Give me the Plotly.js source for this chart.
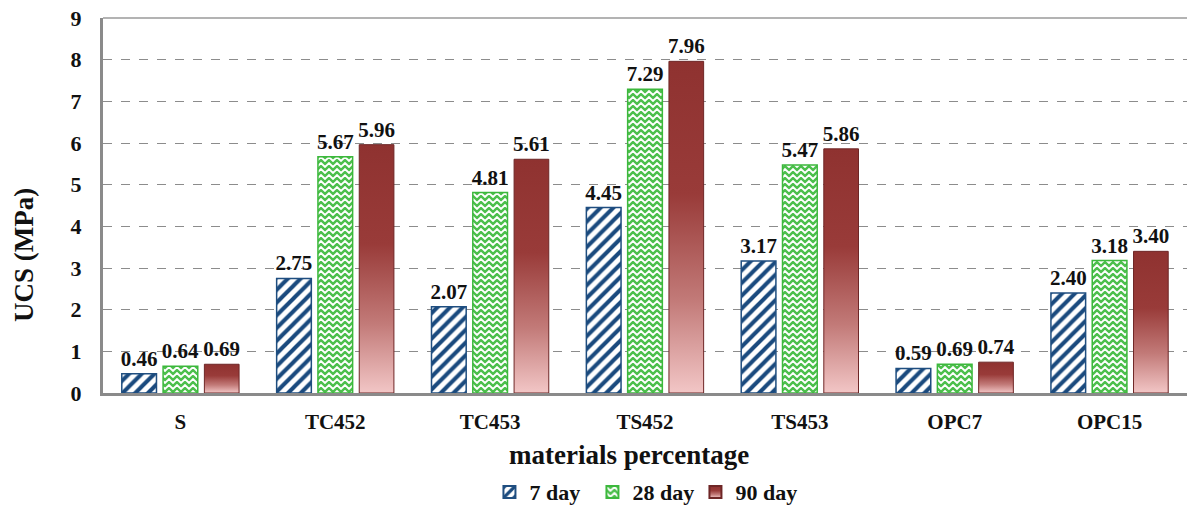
<!DOCTYPE html>
<html>
<head>
<meta charset="utf-8">
<script src="https://cdn.plot.ly/plotly-3.0.1.min.js"></script>
<style>
html,body{margin:0;padding:0;background:#fff;}
#chart{width:1187px;height:511px;}
</style>
</head>
<body>
<div id="chart"></div>
<script>
const categories = ["S", "TC452", "TC453", "TS452", "TS453", "OPC7", "OPC15"];
const day7 = [0.46, 2.75, 2.07, 4.45, 3.17, 0.59, 2.40];
const day28 = [0.64, 5.67, 4.81, 7.29, 5.47, 0.69, 3.18];
const day90 = [0.69, 5.96, 5.61, 7.96, 5.86, 0.74, 3.40];
const seriesNames = ["7 day", "28 day", "90 day"];
const yTicks = [0, 1, 2, 3, 4, 5, 6, 7, 8, 9];
const xTitle = "materials percentage";
const yTitle = "UCS (MPa)";

const serif = '"Liberation Serif", "Times New Roman", serif';
const labelFont = {family: serif, size: 21, color: '#111', weight: 'bold'};

const common = {
  type: 'bar', x: categories,
  texttemplate: '%{y:.2f}', textposition: 'outside', textfont: labelFont,
  cliponaxis: false, constraintext: 'none', hoverinfo: 'skip'
};

const traces = [
  Object.assign({}, common, {
    name: seriesNames[0], y: day7,
    marker: {color: '#ffffff', line: {color: '#1f4e80', width: 1.5},
      pattern: {shape: '/', fgcolor: '#1a4a7e', bgcolor: '#ffffff', size: 9, solidity: 0.45}}
  }),
  Object.assign({}, common, {
    name: seriesNames[1], y: day28,
    marker: {color: '#ffffff', line: {color: '#3cb83c', width: 1.5},
      pattern: {shape: 'x', fgcolor: '#46c246', bgcolor: '#ffffff', size: 6, solidity: 0.3}}
  }),
  Object.assign({}, common, {
    name: seriesNames[2], y: day90,
    marker: {color: '#943634', line: {color: '#6e2626', width: 1}}
  })
];

const layout = {
  width: 1187, height: 511,
  margin: {l: 103, r: 0, t: 18, b: 118},
  paper_bgcolor: '#ffffff', plot_bgcolor: '#ffffff',
  barmode: 'group', bargap: 0.2, bargroupgap: 0.16,
  showlegend: true,
  legend: {orientation: 'h', x: 0.5425, xref: 'container', xanchor: 'center',
    y: 0.037, yref: 'container', yanchor: 'middle',
    font: {family: serif, size: 22, color: '#111', weight: 'bold'},
    itemsizing: 'constant', entrywidth: 58, traceorder: 'normal', itemwidth: 30},
  xaxis: {
    range: [-0.5, 6.5], showgrid: false, zeroline: false,
    showline: true, linecolor: '#8a8a8a', linewidth: 3,
    ticks: '', ticklabelstandoff: 8,
    tickfont: {family: serif, size: 21, color: '#111', weight: 'bold'},
    fixedrange: true
  },
  yaxis: {
    range: [0, 9], tickvals: yTicks, ticktext: yTicks.map(String),
    showgrid: true, gridcolor: '#8c8c8c', gridwidth: 1, griddash: 'dash',
    zeroline: false, showline: true, linecolor: '#8a8a8a', linewidth: 3,
    ticks: '', ticklabelstandoff: 14,
    tickfont: {family: serif, size: 22, color: '#111', weight: 'bold'},
    fixedrange: true
  },
  annotations: [
    {text: xTitle, xref: 'paper', yref: 'paper', x: 0.485, y: -0.165, xanchor: 'center', yanchor: 'middle',
     showarrow: false, font: {family: serif, size: 27, color: '#111', weight: 'bold'}},
    {text: yTitle, xref: 'paper', yref: 'paper', x: -0.0728, y: 0.368, xanchor: 'center', yanchor: 'middle',
     textangle: -90, showarrow: false, font: {family: serif, size: 27, color: '#111', weight: 'bold'}}
  ],
  shapes: [
    {type: 'line', xref: 'paper', yref: 'paper', x0: 0, x1: 1, y0: 1, y1: 1,
     line: {color: '#9a9a9a', width: 1.5}}
  ]
};

Plotly.newPlot('chart', traces, layout, {displayModeBar: false, staticPlot: true}).then(function(gd) {
  const svg = gd.querySelector('svg.main-svg');
  const ns = 'http://www.w3.org/2000/svg';
  let defs = svg.querySelector('defs');
  if (!defs) { defs = document.createElementNS(ns, 'defs'); svg.insertBefore(defs, svg.firstChild); }
  defs.insertAdjacentHTML('beforeend',
    '<linearGradient id="g90" x1="0" y1="0" x2="0" y2="1">' +
      '<stop offset="0" stop-color="#8f3230"/>' +
      '<stop offset="0.4" stop-color="#993b39"/>' +
      '<stop offset="0.72" stop-color="#c27a78"/>' +
      '<stop offset="1" stop-color="#f2c6c6"/>' +
    '</linearGradient>' +
    '<pattern id="zig" patternUnits="userSpaceOnUse" width="8" height="6">' +
      '<rect width="8" height="6" fill="#4cbf4c"/>' +
      '<path d="M-2 5 L2 1 L6 5 L10 1" fill="none" stroke="#ffffff" stroke-width="1.8"/>' +
    '</pattern>');
  const barTraces = gd.querySelectorAll('.barlayer .trace');
  if (barTraces[1]) barTraces[1].querySelectorAll('.point path').forEach(p => p.style.fill = 'url(#zig)');
  if (barTraces[2]) barTraces[2].querySelectorAll('.point path').forEach(p => p.style.fill = 'url(#g90)');
  const legTraces = gd.querySelectorAll('.legend .traces');
  if (legTraces[1]) legTraces[1].querySelectorAll('.legendpoints path').forEach(p => p.style.fill = 'url(#zig)');
  if (legTraces[2]) legTraces[2].querySelectorAll('.legendpoints path').forEach(p => p.style.fill = 'url(#g90)');
});
</script>
</body>
</html>
